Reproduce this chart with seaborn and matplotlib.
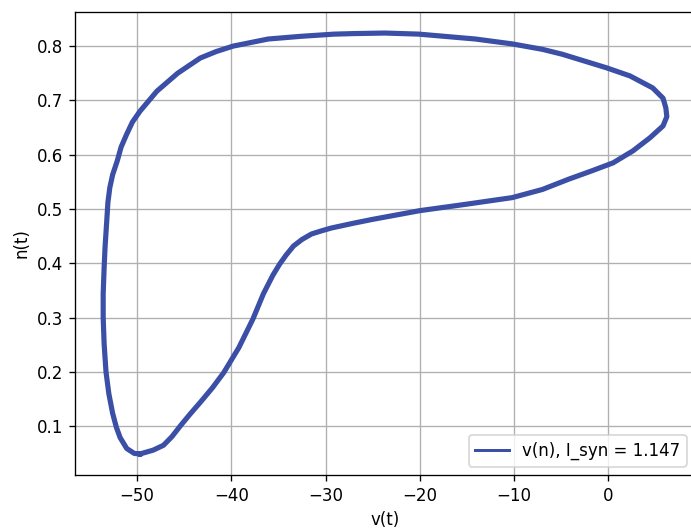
import matplotlib
matplotlib.use("Agg")
import matplotlib.pyplot as plt
import seaborn as sns

# phase plane trajectory (v in mV, n gating variable)
v_vals = [-49.7, -48.3, -47.2, -46.3, -45.4, -44.4, -43.3, -42.0, -40.8, -39.2,
          -37.7, -36.6, -35.6, -34.9, -34.2, -33.4, -32.5, -31.5, -30.4, -29.4,
          -27.0, -25.0, -20.0, -15.0, -10.2, -7.0, -4.2, -1.8, 0.5, 2.6,
          4.4, 5.8, 6.2, 6.1, 5.8, 4.7, 2.3, -0.2, -4.9, -7.0,
          -10.2, -14.1, -20.1, -23.7, -27.0, -29.1, -32.6, -36.1, -39.8, -41.6,
          -43.3, -45.7, -47.9, -49.7, -50.5, -51.1, -51.7, -52.1, -52.6, -52.9,
          -53.1, -53.2, -53.4, -53.5, -53.6, -53.6, -53.5, -53.3, -53.0, -52.6,
          -52.2, -51.8, -51.1, -50.3, -49.7]
n_vals = [0.049, 0.056, 0.065, 0.081, 0.101, 0.122, 0.144, 0.171, 0.199, 0.245,
          0.298, 0.344, 0.378, 0.398, 0.415, 0.432, 0.444, 0.454, 0.460, 0.465,
          0.474, 0.481, 0.497, 0.509, 0.521, 0.536, 0.555, 0.570, 0.585, 0.607,
          0.631, 0.653, 0.670, 0.686, 0.704, 0.723, 0.745, 0.760, 0.785, 0.794,
          0.804, 0.813, 0.822, 0.824, 0.823, 0.822, 0.818, 0.813, 0.800, 0.790,
          0.778, 0.750, 0.717, 0.680, 0.660, 0.638, 0.614, 0.589, 0.563, 0.539,
          0.512, 0.484, 0.430, 0.392, 0.344, 0.300, 0.252, 0.200, 0.160, 0.124,
          0.098, 0.079, 0.059, 0.050, 0.049]
label = "v(n), I_syn = 1.147"
line_color = "#3a4fa5"

fig = plt.figure(figsize=(691 / 120, 529 / 120), dpi=120)
ax = fig.add_axes([75 / 691, 54 / 529, 620 / 691, 463 / 529])

sns.lineplot(x=v_vals, y=n_vals, sort=False, estimator=None, color=line_color,
             lw=3.1, label=label, ax=ax)

ax.grid(True)
ax.set_xlabel("v(t)")
ax.set_ylabel("n(t)")
ax.set_xticks([-50, -40, -30, -20, -10, 0])
ax.set_yticks([0.1, 0.2, 0.3, 0.4, 0.5, 0.6, 0.7, 0.8])

leg = ax.legend(loc="lower right")
for ln in leg.get_lines():
    ln.set_linewidth(1.8)

fig.savefig("out.png", dpi=120)
